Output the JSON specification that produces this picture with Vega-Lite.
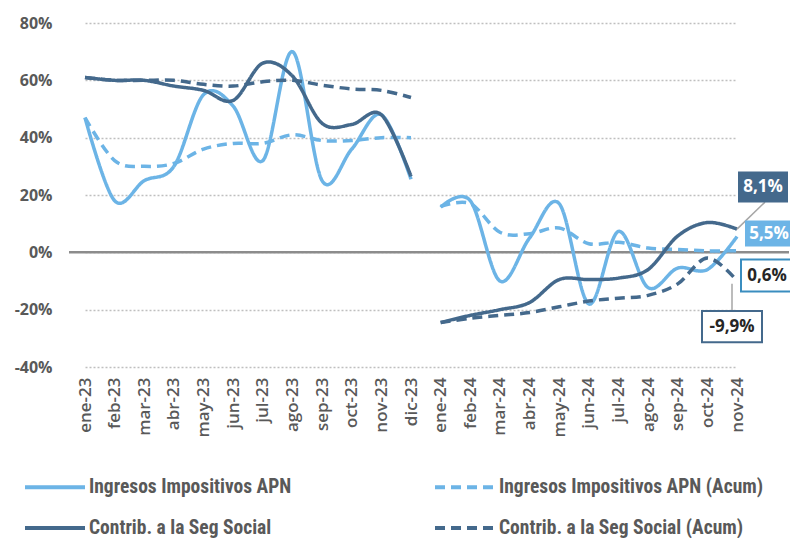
{
  "$schema": "https://vega.github.io/schema/vega-lite/v6.json",
  "width": 720,
  "height": 344,
  "autosize": {"type": "none"},
  "padding": {"left": 69, "top": 23, "right": 1, "bottom": 171},
  "background": "white",
  "config": {
    "view": {"stroke": null},
    "font": "Open Sans",
    "locale": {"number": {"decimal": ",", "thousands": ".", "grouping": [3], "currency": ["", ""], "minus": "-"}},
    "axis": {"domain": false, "ticks": false, "title": null, "labelColor": "#595959", "labelFont": "Open Sans"},
    "legend": {
      "labelFont": "Liberation Sans Narrow, Roboto Condensed, DejaVu Sans Condensed, Open Sans",
      "labelFontSize": 19.5,
      "labelFontWeight": "bold",
      "labelColor": "#595959",
      "symbolType": "stroke",
      "symbolSize": 3600,
      "symbolStrokeWidth": 4,
      "clipHeight": 18,
      "columnPadding": 141,
      "rowPadding": 21,
      "labelOffset": 2,
      "labelLimit": 400
    }
  },
  "data": {"values": [
    {"s":"Ingresos Impositivos APN","m":"ene-23","a":"23","v":0.47},
    {"s":"Ingresos Impositivos APN","m":"feb-23","a":"23","v":0.18},
    {"s":"Ingresos Impositivos APN","m":"mar-23","a":"23","v":0.25},
    {"s":"Ingresos Impositivos APN","m":"abr-23","a":"23","v":0.30},
    {"s":"Ingresos Impositivos APN","m":"may-23","a":"23","v":0.55},
    {"s":"Ingresos Impositivos APN","m":"jun-23","a":"23","v":0.51},
    {"s":"Ingresos Impositivos APN","m":"jul-23","a":"23","v":0.32},
    {"s":"Ingresos Impositivos APN","m":"ago-23","a":"23","v":0.70},
    {"s":"Ingresos Impositivos APN","m":"sep-23","a":"23","v":0.25},
    {"s":"Ingresos Impositivos APN","m":"oct-23","a":"23","v":0.36},
    {"s":"Ingresos Impositivos APN","m":"nov-23","a":"23","v":0.48},
    {"s":"Ingresos Impositivos APN","m":"dic-23","a":"23","v":0.255},
    {"s":"Ingresos Impositivos APN","m":"ene-24","a":"24","v":0.157},
    {"s":"Ingresos Impositivos APN","m":"feb-24","a":"24","v":0.18},
    {"s":"Ingresos Impositivos APN","m":"mar-24","a":"24","v":-0.10},
    {"s":"Ingresos Impositivos APN","m":"abr-24","a":"24","v":0.05},
    {"s":"Ingresos Impositivos APN","m":"may-24","a":"24","v":0.17},
    {"s":"Ingresos Impositivos APN","m":"jun-24","a":"24","v":-0.18},
    {"s":"Ingresos Impositivos APN","m":"jul-24","a":"24","v":0.073},
    {"s":"Ingresos Impositivos APN","m":"ago-24","a":"24","v":-0.123},
    {"s":"Ingresos Impositivos APN","m":"sep-24","a":"24","v":-0.055},
    {"s":"Ingresos Impositivos APN","m":"oct-24","a":"24","v":-0.06},
    {"s":"Ingresos Impositivos APN","m":"nov-24","a":"24","v":0.055},
    {"s":"Ingresos Impositivos APN (Acum)","m":"ene-23","a":"23","v":0.47},
    {"s":"Ingresos Impositivos APN (Acum)","m":"feb-23","a":"23","v":0.32},
    {"s":"Ingresos Impositivos APN (Acum)","m":"mar-23","a":"23","v":0.30},
    {"s":"Ingresos Impositivos APN (Acum)","m":"abr-23","a":"23","v":0.31},
    {"s":"Ingresos Impositivos APN (Acum)","m":"may-23","a":"23","v":0.36},
    {"s":"Ingresos Impositivos APN (Acum)","m":"jun-23","a":"23","v":0.38},
    {"s":"Ingresos Impositivos APN (Acum)","m":"jul-23","a":"23","v":0.38},
    {"s":"Ingresos Impositivos APN (Acum)","m":"ago-23","a":"23","v":0.41},
    {"s":"Ingresos Impositivos APN (Acum)","m":"sep-23","a":"23","v":0.39},
    {"s":"Ingresos Impositivos APN (Acum)","m":"oct-23","a":"23","v":0.39},
    {"s":"Ingresos Impositivos APN (Acum)","m":"nov-23","a":"23","v":0.40},
    {"s":"Ingresos Impositivos APN (Acum)","m":"dic-23","a":"23","v":0.40},
    {"s":"Ingresos Impositivos APN (Acum)","m":"ene-24","a":"24","v":0.16},
    {"s":"Ingresos Impositivos APN (Acum)","m":"feb-24","a":"24","v":0.17},
    {"s":"Ingresos Impositivos APN (Acum)","m":"mar-24","a":"24","v":0.07},
    {"s":"Ingresos Impositivos APN (Acum)","m":"abr-24","a":"24","v":0.065},
    {"s":"Ingresos Impositivos APN (Acum)","m":"may-24","a":"24","v":0.085},
    {"s":"Ingresos Impositivos APN (Acum)","m":"jun-24","a":"24","v":0.03},
    {"s":"Ingresos Impositivos APN (Acum)","m":"jul-24","a":"24","v":0.035},
    {"s":"Ingresos Impositivos APN (Acum)","m":"ago-24","a":"24","v":0.015},
    {"s":"Ingresos Impositivos APN (Acum)","m":"sep-24","a":"24","v":0.01},
    {"s":"Ingresos Impositivos APN (Acum)","m":"oct-24","a":"24","v":0.005},
    {"s":"Ingresos Impositivos APN (Acum)","m":"nov-24","a":"24","v":0.006},
    {"s":"Contrib. a la Seg Social","m":"ene-23","a":"23","v":0.61},
    {"s":"Contrib. a la Seg Social","m":"feb-23","a":"23","v":0.60},
    {"s":"Contrib. a la Seg Social","m":"mar-23","a":"23","v":0.60},
    {"s":"Contrib. a la Seg Social","m":"abr-23","a":"23","v":0.58},
    {"s":"Contrib. a la Seg Social","m":"may-23","a":"23","v":0.565},
    {"s":"Contrib. a la Seg Social","m":"jun-23","a":"23","v":0.53},
    {"s":"Contrib. a la Seg Social","m":"jul-23","a":"23","v":0.66},
    {"s":"Contrib. a la Seg Social","m":"ago-23","a":"23","v":0.615},
    {"s":"Contrib. a la Seg Social","m":"sep-23","a":"23","v":0.45},
    {"s":"Contrib. a la Seg Social","m":"oct-23","a":"23","v":0.446},
    {"s":"Contrib. a la Seg Social","m":"nov-23","a":"23","v":0.48},
    {"s":"Contrib. a la Seg Social","m":"dic-23","a":"23","v":0.265},
    {"s":"Contrib. a la Seg Social","m":"ene-24","a":"24","v":-0.245},
    {"s":"Contrib. a la Seg Social","m":"feb-24","a":"24","v":-0.22},
    {"s":"Contrib. a la Seg Social","m":"mar-24","a":"24","v":-0.20},
    {"s":"Contrib. a la Seg Social","m":"abr-24","a":"24","v":-0.175},
    {"s":"Contrib. a la Seg Social","m":"may-24","a":"24","v":-0.095},
    {"s":"Contrib. a la Seg Social","m":"jun-24","a":"24","v":-0.095},
    {"s":"Contrib. a la Seg Social","m":"jul-24","a":"24","v":-0.09},
    {"s":"Contrib. a la Seg Social","m":"ago-24","a":"24","v":-0.06},
    {"s":"Contrib. a la Seg Social","m":"sep-24","a":"24","v":0.057},
    {"s":"Contrib. a la Seg Social","m":"oct-24","a":"24","v":0.104},
    {"s":"Contrib. a la Seg Social","m":"nov-24","a":"24","v":0.081},
    {"s":"Contrib. a la Seg Social (Acum)","m":"ene-23","a":"23","v":0.61},
    {"s":"Contrib. a la Seg Social (Acum)","m":"feb-23","a":"23","v":0.60},
    {"s":"Contrib. a la Seg Social (Acum)","m":"mar-23","a":"23","v":0.60},
    {"s":"Contrib. a la Seg Social (Acum)","m":"abr-23","a":"23","v":0.60},
    {"s":"Contrib. a la Seg Social (Acum)","m":"may-23","a":"23","v":0.586},
    {"s":"Contrib. a la Seg Social (Acum)","m":"jun-23","a":"23","v":0.58},
    {"s":"Contrib. a la Seg Social (Acum)","m":"jul-23","a":"23","v":0.595},
    {"s":"Contrib. a la Seg Social (Acum)","m":"ago-23","a":"23","v":0.60},
    {"s":"Contrib. a la Seg Social (Acum)","m":"sep-23","a":"23","v":0.583},
    {"s":"Contrib. a la Seg Social (Acum)","m":"oct-23","a":"23","v":0.57},
    {"s":"Contrib. a la Seg Social (Acum)","m":"nov-23","a":"23","v":0.565},
    {"s":"Contrib. a la Seg Social (Acum)","m":"dic-23","a":"23","v":0.54},
    {"s":"Contrib. a la Seg Social (Acum)","m":"ene-24","a":"24","v":-0.245},
    {"s":"Contrib. a la Seg Social (Acum)","m":"feb-24","a":"24","v":-0.23},
    {"s":"Contrib. a la Seg Social (Acum)","m":"mar-24","a":"24","v":-0.22},
    {"s":"Contrib. a la Seg Social (Acum)","m":"abr-24","a":"24","v":-0.21},
    {"s":"Contrib. a la Seg Social (Acum)","m":"may-24","a":"24","v":-0.19},
    {"s":"Contrib. a la Seg Social (Acum)","m":"jun-24","a":"24","v":-0.17},
    {"s":"Contrib. a la Seg Social (Acum)","m":"jul-24","a":"24","v":-0.16},
    {"s":"Contrib. a la Seg Social (Acum)","m":"ago-24","a":"24","v":-0.15},
    {"s":"Contrib. a la Seg Social (Acum)","m":"sep-24","a":"24","v":-0.11},
    {"s":"Contrib. a la Seg Social (Acum)","m":"oct-24","a":"24","v":-0.02},
    {"s":"Contrib. a la Seg Social (Acum)","m":"nov-24","a":"24","v":-0.099}
  ]},
  "encoding": {
    "x": {
      "field": "m", "type": "ordinal",
      "scale": {"type": "point", "padding": 0, "range": [16, 668], "domain": ["ene-23","feb-23","mar-23","abr-23","may-23","jun-23","jul-23","ago-23","sep-23","oct-23","nov-23","dic-23","ene-24","feb-24","mar-24","abr-24","may-24","jun-24","jul-24","ago-24","sep-24","oct-24","nov-24"]},
      "axis": {"labelAngle": -90, "labelFontSize": 17, "labelFontWeight": 600, "labelPadding": 10, "grid": false}
    },
    "y": {
      "field": "v", "type": "quantitative",
      "scale": {"domain": [-0.4, 0.8], "nice": false},
      "axis": {"values": [-0.4, -0.2, 0, 0.2, 0.4, 0.6, 0.8], "format": ".0%", "labelFontSize": 16, "labelFontWeight": "bold", "labelPadding": 17, "grid": true, "gridDash": [2, 2], "gridColor": "#BFBFBF", "gridWidth": 1.5}
    }
  },
  "layer": [
    {
      "data": {"values": [{"z": 0}]},
      "mark": {"type": "rule", "color": "#8C8C8C", "strokeWidth": 2.5},
      "encoding": {"x": null, "y": {"field": "z", "type": "quantitative"}}
    },
    {
      "mark": {"type": "line", "interpolate": "cardinal", "strokeWidth": 3.5},
      "encoding": {
        "color": {
          "field": "s", "type": "nominal",
          "scale": {"domain": ["Ingresos Impositivos APN", "Ingresos Impositivos APN (Acum)", "Contrib. a la Seg Social", "Contrib. a la Seg Social (Acum)"], "range": ["#6CB4E6", "#6CB4E6", "#44698C", "#44698C"]},
          "legend": {"title": null, "orient": "none", "legendX": -46, "legendY": 455, "columns": 2, "direction": "horizontal"}
        },
        "strokeDash": {
          "field": "s", "type": "nominal",
          "scale": {"domain": ["Ingresos Impositivos APN", "Ingresos Impositivos APN (Acum)", "Contrib. a la Seg Social", "Contrib. a la Seg Social (Acum)"], "range": [[1, 0], [10, 6], [1, 0], [10, 6]]},
          "legend": {"title": null, "orient": "none", "legendX": -46, "legendY": 455, "columns": 2, "direction": "horizontal"}
        },
        "detail": {"field": "a", "type": "nominal"}
      }
    },
    {
      "transform": [{"filter": "datum.m == 'nov-24' && datum.s == 'Contrib. a la Seg Social'"}],
      "mark": {"type": "rule", "color": "#A6A6A6", "strokeWidth": 1.5, "x2Offset": 28, "y2Offset": -27},
      "encoding": {"x2": {"field": "m"}, "y2": {"field": "v"}}
    },
    {
      "transform": [{"filter": "datum.m == 'nov-24' && datum.s == 'Contrib. a la Seg Social (Acum)'"}],
      "mark": {"type": "rule", "color": "#A6A6A6", "strokeWidth": 1.5, "xOffset": -5, "yOffset": 3, "x2Offset": -5, "y2Offset": 31},
      "encoding": {"x2": {"field": "m"}, "y2": {"field": "v"}}
    },
    {
      "transform": [{"filter": "datum.m == 'nov-24' && datum.s == 'Contrib. a la Seg Social'"}],
      "mark": {"type": "point", "shape": "M-1,-0.62H1V0.62H-1Z", "size": 2500, "filled": true, "fill": "#44698C", "opacity": 1, "strokeWidth": 0, "xOffset": 26, "yOffset": -42}
    },
    {
      "transform": [{"filter": "datum.m == 'nov-24' && datum.s == 'Contrib. a la Seg Social'"}],
      "mark": {"type": "text", "font": "Open Sans", "fontSize": 17, "fontWeight": "bold", "fill": "white", "align": "center", "baseline": "middle", "xOffset": 26, "yOffset": -42},
      "encoding": {"text": {"field": "v", "type": "quantitative", "format": ".1%"}}
    },
    {
      "transform": [{"filter": "datum.m == 'nov-24' && datum.s == 'Ingresos Impositivos APN'"}],
      "mark": {"type": "point", "shape": "M-1,-0.54H1V0.54H-1Z", "size": 2304, "filled": true, "fill": "#6CB4E6", "opacity": 1, "strokeWidth": 0, "xOffset": 32, "yOffset": -3}
    },
    {
      "transform": [{"filter": "datum.m == 'nov-24' && datum.s == 'Ingresos Impositivos APN'"}],
      "mark": {"type": "text", "font": "Open Sans", "fontSize": 17, "fontWeight": "bold", "fill": "white", "align": "center", "baseline": "middle", "xOffset": 32, "yOffset": -3},
      "encoding": {"text": {"field": "v", "type": "quantitative", "format": ".1%"}}
    },
    {
      "transform": [{"filter": "datum.m == 'nov-24' && datum.s == 'Ingresos Impositivos APN (Acum)'"}],
      "mark": {"type": "point", "shape": "M-1,-0.64H1V0.64H-1Z", "size": 2500, "filled": true, "fill": "white", "stroke": "#3A8DBF", "strokeWidth": 2, "opacity": 1, "xOffset": 29, "yOffset": 25}
    },
    {
      "transform": [{"filter": "datum.m == 'nov-24' && datum.s == 'Ingresos Impositivos APN (Acum)'"}],
      "mark": {"type": "text", "font": "Open Sans", "fontSize": 17, "fontWeight": "bold", "fill": "#262626", "align": "center", "baseline": "middle", "xOffset": 30, "yOffset": 25},
      "encoding": {"text": {"field": "v", "type": "quantitative", "format": ".1%"}}
    },
    {
      "transform": [{"filter": "datum.m == 'nov-24' && datum.s == 'Contrib. a la Seg Social (Acum)'"}],
      "mark": {"type": "point", "shape": "M-1,-0.52H1V0.52H-1Z", "size": 3600, "filled": true, "fill": "white", "stroke": "#44698C", "strokeWidth": 2, "opacity": 1, "xOffset": -5, "yOffset": 46}
    },
    {
      "transform": [{"filter": "datum.m == 'nov-24' && datum.s == 'Contrib. a la Seg Social (Acum)'"}],
      "mark": {"type": "text", "font": "Open Sans", "fontSize": 17, "fontWeight": "bold", "fill": "#262626", "align": "center", "baseline": "middle", "xOffset": -5, "yOffset": 46},
      "encoding": {"text": {"field": "v", "type": "quantitative", "format": ".1%"}}
    }
  ]
}
